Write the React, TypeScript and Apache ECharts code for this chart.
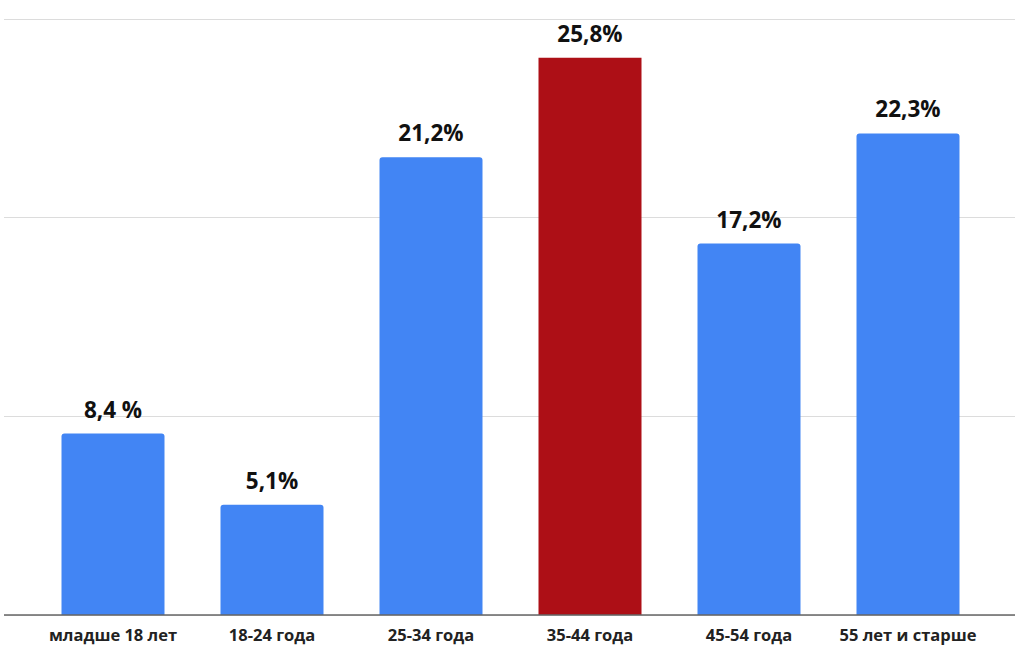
import React, { useEffect, useRef } from "react";
import * as echarts from "echarts";

const categories = ["младше 18 лет", "18-24 года", "25-34 года", "35-44 года", "45-54 года", "55 лет и старше"];
const values = [8.4, 5.1, 21.2, 25.8, 17.2, 22.3];
const valueLabels = ["8,4 %", "5,1%", "21,2%", "25,8%", "17,2%", "22,3%"];
const highlightIndex = 3;
const axisMax = 27.6;
const axisInterval = 9.2;

export default function App() {
  const ref = useRef<HTMLDivElement>(null);
  useEffect(() => {
    document.body.style.margin = "0";
    const chart = echarts.init(ref.current!, null, { renderer: "svg" });
    const font = "'Open Sans', 'DejaVu Sans', sans-serif";
    chart.setOption({
      animation: false,
      backgroundColor: "#ffffff",
      grid: [
        { left: 4, right: 9, top: 19, bottom: 37 },
        { left: 33.5, right: 36.5, top: 19, bottom: 37 },
      ],
      xAxis: [
        { type: "category", gridIndex: 0, data: [], show: false },
        {
          type: "category",
          gridIndex: 1,
          data: categories,
          axisTick: { show: false },
          axisLine: { show: false },
          axisLabel: { color: "#222", fontSize: 16.5, fontWeight: "bold", fontFamily: font, margin: 11, interval: 0 },
        },
      ],
      yAxis: [
        {
          type: "value",
          gridIndex: 0,
          min: 0,
          max: axisMax,
          interval: axisInterval,
          axisLabel: { show: false },
          axisTick: { show: false },
          axisLine: { show: false },
          splitLine: { show: true, lineStyle: { color: "#dcdcdc", width: 1 } },
        },
        {
          type: "value",
          gridIndex: 1,
          min: 0,
          max: axisMax,
          interval: axisInterval,
          show: false,
          splitLine: { show: false },
        },
      ],
      series: [
        {
          type: "bar",
          xAxisIndex: 1,
          yAxisIndex: 1,
          barWidth: 103,
          data: values.map((v, i) => ({
            value: v,
            itemStyle: {
              color: i === highlightIndex ? "#ad0f16" : "#4285f4",
              borderRadius: i === highlightIndex ? 0 : [3, 3, 0, 0],
            },
          })),
          label: {
            show: true,
            position: "top",
            distance: 13,
            fontSize: 22.5,
            fontWeight: "bold",
            fontFamily: font,
            color: "#111",
            formatter: (p: any) => valueLabels[p.dataIndex],
          },
        },
      ],
      graphic: [
        {
          type: "line",
          shape: { x1: 4, y1: 615, x2: 1015, y2: 615 },
          style: { stroke: "#666", lineWidth: 1.5 },
          z: 10,
        },
      ],
    });
    return () => chart.dispose();
  }, []);
  return <div ref={ref} style={{ width: 1024, height: 652 }} />;
}
